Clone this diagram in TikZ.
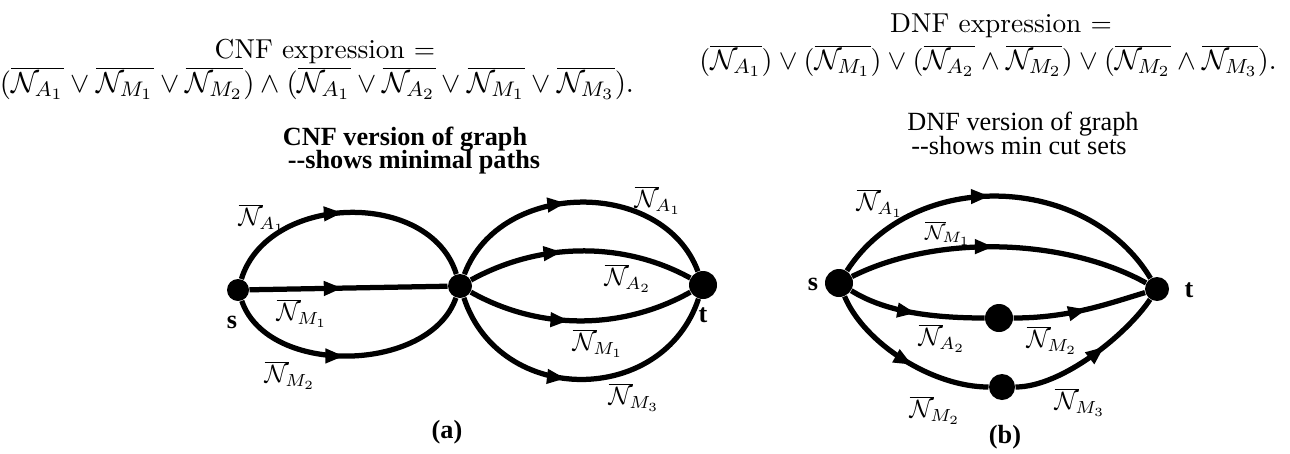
\documentclass[tikz,border=0pt]{standalone}
\usepackage{fontspec}
\newfontfamily\capfont{Liberation Serif}
\usetikzlibrary{decorations.markings,arrows.meta}
\tikzset{
  edge/.style={line width=2.1pt},
  midarrow/.style={postaction={decorate,decoration={markings,
     mark=at position #1 with {\arrow{Triangle[length=7.5pt,width=5.5pt]}}}}},
  dot/.style={circle,fill=black,inner sep=0pt,minimum size=#1},
  lbl/.style={font=\fontsize{10}{12}\selectfont, inner sep=0pt},
  slbl/.style={font=\fontsize{8.5}{10}\selectfont, inner sep=0pt},
  capb/.style={font=\capfont\bfseries\fontsize{10.5}{12}\selectfont, inner sep=0pt, anchor=base},
  capr/.style={font=\capfont\fontsize{10.5}{12}\selectfont, inner sep=0pt, anchor=base},
  maintext/.style={font=\fontsize{10.95}{13}\selectfont, inner sep=0pt, anchor=base},
}
\newcommand{\NN}[1]{\overline{\mathcal{N}_{#1}}}
\newcommand{\NL}[1]{$\overline{\mathcal{N}}_{\!#1}$}
\begin{document}
\begin{tikzpicture}[x=0.4pt,y=-0.4pt]
\useasboundingbox (0,0) rectangle (1290,453);

% top texts
\node[maintext] (cnft) at (325,58) {CNF expression =};
\node[maintext] (cnff) at (317,92) {\scalebox{1.055}{$\bigl(\NN{A_1}\vee\NN{M_1}\vee\NN{M_2}\bigr)\wedge\bigl(\NN{A_1}\vee\NN{A_2}\vee\NN{M_1}\vee\NN{M_3}\bigr).$}};
\node[maintext] (dnft) at (1001,32) {DNF expression =};
\node[maintext] (dnff) at (988,69) {\scalebox{1.025}{$\bigl(\NN{A_1}\bigr)\vee\bigl(\NN{M_1}\bigr)\vee\bigl(\NN{A_2}\wedge\NN{M_2}\bigr)\vee\bigl(\NN{M_2}\wedge\NN{M_3}\bigr).$}};

% captions
\node[capb] (cap1) at (405,145) {CNF version of graph};
\node[capb] (cap2) at (414,168) {--shows minimal paths};
\node[capr] (cap3) at (1023,130) {DNF version of graph};
\node[capr] (cap4) at (1019,154) {--shows min cut sets};

% graph (a)
\node[dot=8.8pt] (s) at (238,290) {};
\node[dot=9.6pt] (m) at (460,286) {};
\node[dot=11.2pt] (t) at (703,285) {};
\draw[edge,midarrow=0.48] (s) .. controls +(30,-97) and +(-30,-97) .. (m);
\draw[edge,midarrow=0.47] (s) -- (m);
\draw[edge,midarrow=0.48] (s) .. controls +(30,87) and +(-30,87) .. (m);
\draw[edge,midarrow=0.45] (m) .. controls +(40,-107) and +(-40,-107) .. (t);
\draw[edge,midarrow=0.42] (m) .. controls +(80,-44) and +(-80,-44) .. (t);
\draw[edge,midarrow=0.45] (m) .. controls +(80,45) and +(-80,45) .. (t);
\draw[edge,midarrow=0.45] (m) .. controls +(40,121) and +(-40,121) .. (t);
\node[lbl] (la1) at (262,218) {\NL{A_1}};
\node[lbl] (la2) at (302,313) {\NL{M_1}};
\node[lbl] (la3) at (290,375) {\NL{M_2}};
\node[lbl] (la4) at (658,200) {\NL{A_1}};
\node[lbl] (la5) at (628,278) {\NL{A_2}};
\node[lbl] (la6) at (598,343) {\NL{M_1}};
\node[lbl] (la7) at (634,397) {\NL{M_3}};
\node[capb,anchor=center] (sa) at (232,322) {s};
\node[capb,anchor=center] (ta) at (703,315) {t};
\node[capb,anchor=center] (capa) at (447,432) {(a)};

% graph (b)
\node[dot=11.2pt] (s2) at (839,283) {};
\node[dot=9.6pt] (t2) at (1157,289) {};
\node[dot=11.2pt] (u1) at (999,318) {};
\node[dot=10.4pt] (u2) at (1002,387) {};
\draw[edge,midarrow=0.47] (s2) .. controls +(75,-116) and +(-70,-116) .. (t2);
\draw[edge,midarrow=0.48] (s2) .. controls +(100,-50) and +(-90,-50) .. (t2);
\draw[edge,midarrow=0.5] (s2) .. controls +(40,25) and +(-80,0) .. (u1);
\draw[edge,midarrow=0.55] (u1) .. controls +(70,0) and +(-50,15) .. (t2);
\draw[edge,midarrow=0.55] (s2) .. controls +(25,60) and +(-70,0) .. (u2);
\draw[edge,midarrow=0.6] (u2) .. controls +(60,0) and +(-30,45) .. (t2);
\node[lbl] (lb1) at (880,203) {\NL{A_1}};
\node[slbl] (lb2) at (948,233) {\NL{M_1}};
\node[lbl] (lb3) at (942,338) {\NL{A_2}};
\node[lbl] (lb4) at (1052,340) {\NL{M_2}};
\node[lbl] (lb5) at (935,410) {\NL{M_2}};
\node[lbl] (lb6) at (1080,402) {\NL{M_3}};
\node[capb,anchor=center] (sb) at (813,284) {s};
\node[capb,anchor=center] (tb) at (1189,290) {t};
\node[capb,anchor=center] (capb2) at (1005,437) {(b)};
\end{tikzpicture}
\end{document}
